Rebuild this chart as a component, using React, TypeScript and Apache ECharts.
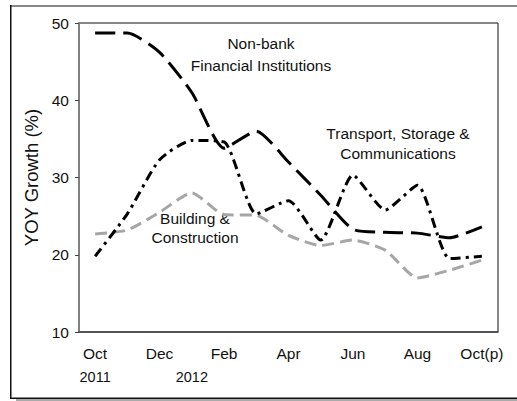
import React, { useEffect, useRef } from "react";
import * as echarts from "echarts";

const months = ["Oct", "Nov", "Dec", "Jan", "Feb", "Mar", "Apr", "May", "Jun", "Jul", "Aug", "Sep", "Oct(p)"];
const yearLabels: Record<number, string> = { 0: "2011", 3: "2012" };
const nonBank = [48.7, 48.7, 46.2, 41.0, 33.8, 36.0, 32.0, 27.7, 23.3, 22.9, 22.8, 22.2, 23.6];
const transport = [19.8, 25.3, 32.3, 34.8, 34.6, 25.3, 27.0, 21.9, 30.3, 25.8, 29.0, 19.5, 19.8];
const building = [22.7, 23.2, 25.5, 28.0, 25.2, 25.1, 22.5, 21.2, 21.9, 20.6, 17.0, 18.0, 19.3];
const yTicks = { min: 10, max: 50, interval: 10 };

const FONT = "Liberation Sans, Arial, Helvetica, sans-serif";

export default function App() {
  const ref = useRef<HTMLDivElement>(null);
  useEffect(() => {
    if (!ref.current) return;
    const chart = echarts.init(ref.current, undefined, { renderer: "svg" });
    chart.setOption({
      animation: false,
      backgroundColor: "#fff",
      textStyle: { fontFamily: FONT },
      grid: { left: 79, top: 23, right: 19, bottom: 69, show: true, borderColor: "#111", borderWidth: 1 },
      xAxis: [
        {
          type: "category",
          data: months,
          boundaryGap: true,
          axisLine: { lineStyle: { color: "#444", width: 1.5 } },
          axisTick: { alignWithLabel: true, length: 4, lineStyle: { color: "#222" } },
          axisLabel: {
            interval: 0,
            margin: 10,
            color: "#111",
            fontFamily: FONT,
            formatter: (v: string, i: number) => {
              const yr = yearLabels[i];
              const m = i % 2 === 0 ? v : "\u00a0";
              if (yr) return `{m|${m}}\n{y|${yr}}`;
              return i % 2 === 0 ? `{m|${m}}` : "";
            },
            rich: {
              m: { fontSize: 15.5, lineHeight: 23, fontFamily: FONT, color: "#111" },
              y: { fontSize: 14.5, lineHeight: 23, fontFamily: FONT, color: "#111" },
            },
          },
        },
        {
          type: "category",
          data: months,
          boundaryGap: true,
          position: "bottom",
          axisLine: { show: false },
          axisTick: { alignWithLabel: true, inside: true, length: 4, lineStyle: { color: "#222" } },
          axisLabel: { show: false },
        },
      ],
      yAxis: {
        type: "value",
        min: yTicks.min,
        max: yTicks.max,
        interval: yTicks.interval,
        name: "YOY Growth (%)",
        nameLocation: "middle",
        nameGap: 35,
        nameTextStyle: { fontSize: 18.5, color: "#111", fontFamily: FONT },
        splitLine: { show: false },
        axisLine: { show: true, lineStyle: { color: "#808080", width: 2 } },
        axisTick: { show: true, length: 4, lineStyle: { color: "#444" } },
        axisLabel: { fontSize: 15.5, color: "#111", margin: 10, fontFamily: FONT },
      },
      series: [
        {
          name: "Building & Construction",
          type: "line",
          data: building,
          symbol: "none",
          smooth: 0.2,
          lineStyle: { color: "#a6a6a6", width: 3, type: [12, 6] },
        },
        {
          name: "Transport, Storage & Communications",
          type: "line",
          data: transport,
          symbol: "none",
          smooth: 0.2,
          lineStyle: { color: "#000", width: 3, type: [10, 5, 3, 5] },
        },
        {
          name: "Non-bank Financial Institutions",
          type: "line",
          data: nonBank,
          symbol: "none",
          smooth: 0.2,
          lineStyle: { color: "#000", width: 3, type: [20, 8] },
        },
      ],
      graphic: [
        { type: "rect", shape: { x: 11, y: 5, width: 520, height: 2 }, style: { fill: "#888" }, silent: true },
        { type: "rect", shape: { x: 10, y: 5, width: 1.5, height: 394 }, style: { fill: "#111" }, silent: true },
        { type: "rect", shape: { x: 10, y: 397.5, width: 520, height: 1.5 }, style: { fill: "#111" }, silent: true },
        { type: "rect", shape: { x: 16, y: 399, width: 520, height: 2 }, style: { fill: "#aaa" }, silent: true },
        {
          type: "text",
          x: 261,
          y: 54,
          style: { text: "Non-bank\nFinancial Institutions", fontSize: 15.5, lineHeight: 22, fill: "#111", fontFamily: FONT, align: "center", verticalAlign: "middle" },
        },
        {
          type: "text",
          x: 398,
          y: 143,
          style: { text: "Transport, Storage &\nCommunications", fontSize: 15.5, lineHeight: 20, fill: "#111", fontFamily: FONT, align: "center", verticalAlign: "middle" },
        },
        {
          type: "text",
          x: 195,
          y: 228,
          style: { text: "Building &\nConstruction", fontSize: 15.5, lineHeight: 19, fill: "#111", fontFamily: FONT, align: "center", verticalAlign: "middle" },
        },
      ],
    });
    return () => chart.dispose();
  }, []);
  return <div ref={ref} style={{ position: "absolute", left: 0, top: 0, width: 517, height: 401 }} />;
}
